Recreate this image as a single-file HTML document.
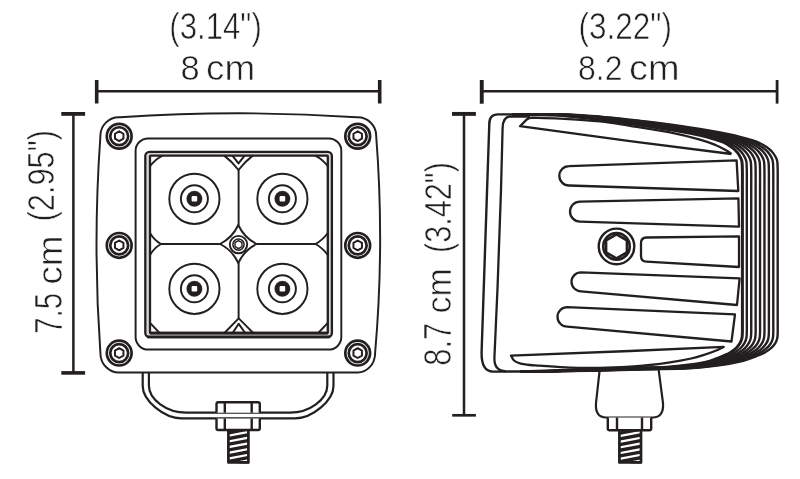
<!DOCTYPE html>
<html lang="en">
<head>
<meta charset="utf-8">
<title>Light dimensions</title>
<style>
html,body{margin:0;padding:0;background:#fff;}
body{width:800px;height:479px;overflow:hidden;}
svg{display:block;}
</style>
</head>
<body>
<svg width="800" height="479" viewBox="0 0 800 479" fill="none" stroke="#231f20" stroke-linecap="butt" stroke-linejoin="round">
<rect x="0" y="0" width="800" height="479" fill="#fff" stroke="none"/>
<g id="front" stroke-width="1.95">
<path d="M100.4,136.2 A18.6,18.6 0 0 1 120.2,117.3 Q238.3,109.3 356.7,117.3 A18.6,18.6 0 0 1 376.2,136.2 Q384.6,244.5 375.1,353.1 A17.5,19.4 0 0 1 356.7,372.5 L120.2,372.5 A18.6,19.4 0 0 1 100.4,353.1 Q92.6,244.5 100.4,136.2 Z"/>
<rect x="135.6" y="138.4" width="205.7" height="211.2" rx="12.5"/>
<rect x="145.3" y="151.9" width="186.6" height="185.2" rx="4.2" stroke-width="2.3" fill="#d6d6d6"/>
<rect x="150" y="155.6" width="177.8" height="177.4" rx="0.6" stroke-width="2.3" fill="#fff"/>
<path d="M147,336.9 H330.2 M150,333.1 H327.8" stroke-width="2.7"/>
<path d="M238.6,170 V225 M238.6,263 V318.4"/>
<path d="M161,244 H220 M256.6,244 H315.6"/>
<path d="M238.3,225 Q244.25,237.82 256.6,244 Q244.25,250.18 238.3,263 Q232.35,250.18 220,244 Q232.35,237.82 238.3,225 Z"/>
<path d="M224.2,155.6 Q232.2,161.6 238.5,170 Q244.8,161.6 252.8,155.6"/>
<path d="M232.4,155.6 L238.5,163.4 L244.6,155.6" stroke-width="2"/>
<path d="M224.4,333 Q231.8,325.4 238.7,318.4 Q245.8,325.4 253.2,333"/>
<path d="M232.6,333 L238.7,323.8 L245.2,333" stroke-width="2"/>
<path d="M150,233 Q154,240 161,244 Q154,248 150,255"/>
<path d="M327.8,233 Q322.6,240 315.6,244 Q322.6,248 327.8,255"/>
<path d="M162.6,155.6 Q155.04,159.42 150,166.2"/>
<path d="M315.2,155.6 Q322.76,159.42 327.8,166.2"/>
<path d="M159.6,333 L150,322.8"/>
<path d="M318.2,333 L327.8,322.8"/>
<circle cx="194.4" cy="198.8" r="25.1"/>
<circle cx="194.4" cy="198.8" r="13.5"/>
<circle cx="194.4" cy="198.8" r="7.7" stroke-width="0.4" fill="#231f20"/>
<rect x="191.6" y="196" width="5.6" height="5.6" rx="1" fill="#fff" stroke="none"/>
<circle cx="194.4" cy="288.8" r="25.1"/>
<circle cx="194.4" cy="288.8" r="13.5"/>
<circle cx="194.4" cy="288.8" r="7.7" stroke-width="0.4" fill="#231f20"/>
<rect x="191.6" y="286" width="5.6" height="5.6" rx="1" fill="#fff" stroke="none"/>
<circle cx="282.4" cy="198.8" r="25.1"/>
<circle cx="282.4" cy="198.8" r="13.5"/>
<circle cx="282.4" cy="198.8" r="7.7" stroke-width="0.4" fill="#231f20"/>
<rect x="279.6" y="196" width="5.6" height="5.6" rx="1" fill="#fff" stroke="none"/>
<circle cx="282.4" cy="288.8" r="25.1"/>
<circle cx="282.4" cy="288.8" r="13.5"/>
<circle cx="282.4" cy="288.8" r="7.7" stroke-width="0.4" fill="#231f20"/>
<rect x="279.6" y="286" width="5.6" height="5.6" rx="1" fill="#fff" stroke="none"/>
<circle cx="119.2" cy="136.2" r="12.4" stroke-width="2.7"/>
<circle cx="119.2" cy="136.2" r="8.95" stroke-width="2.7"/>
<path d="M123.44,138.65 L119.2,141.1 L114.96,138.65 L114.96,133.75 L119.2,131.3 L123.44,133.75 Z" stroke-width="2"/>
<circle cx="119.2" cy="245.4" r="12.4" stroke-width="2.7"/>
<circle cx="119.2" cy="245.4" r="8.95" stroke-width="2.7"/>
<path d="M123.44,247.85 L119.2,250.3 L114.96,247.85 L114.96,242.95 L119.2,240.5 L123.44,242.95 Z" stroke-width="2"/>
<circle cx="119.2" cy="353.1" r="12.4" stroke-width="2.7"/>
<circle cx="119.2" cy="353.1" r="8.95" stroke-width="2.7"/>
<path d="M123.44,355.55 L119.2,358 L114.96,355.55 L114.96,350.65 L119.2,348.2 L123.44,350.65 Z" stroke-width="2"/>
<circle cx="357.7" cy="136.2" r="12.4" stroke-width="2.7"/>
<circle cx="357.7" cy="136.2" r="8.95" stroke-width="2.7"/>
<path d="M361.94,138.65 L357.7,141.1 L353.46,138.65 L353.46,133.75 L357.7,131.3 L361.94,133.75 Z" stroke-width="2"/>
<circle cx="357.7" cy="245.4" r="12.4" stroke-width="2.7"/>
<circle cx="357.7" cy="245.4" r="8.95" stroke-width="2.7"/>
<path d="M361.94,247.85 L357.7,250.3 L353.46,247.85 L353.46,242.95 L357.7,240.5 L361.94,242.95 Z" stroke-width="2"/>
<circle cx="357.7" cy="353.1" r="12.4" stroke-width="2.7"/>
<circle cx="357.7" cy="353.1" r="8.95" stroke-width="2.7"/>
<path d="M361.94,355.55 L357.7,358 L353.46,355.55 L353.46,350.65 L357.7,348.2 L361.94,350.65 Z" stroke-width="2"/>
<circle cx="238.5" cy="244.6" r="8.7" stroke-width="1.9"/>
<circle cx="238.5" cy="244.6" r="5.6" stroke-width="1.5"/>
<path d="M241.96,246.6 L238.5,248.6 L235.04,246.6 L235.04,242.6 L238.5,240.6 L241.96,242.6 Z" stroke-width="1.4"/>
<path d="M142.7,372.5 V386 C142.7,400.6 164,418.4 181.6,418.4 H295 C312.3,418.4 333.5,400.6 333.5,386 V372.5" stroke-width="2.2"/>
<path d="M148.9,372.5 V385.6 C148.9,399.6 166.8,412.7 186.2,412.7 H290 C309.4,412.7 327.3,399.6 327.3,385.6 V372.5" stroke-width="2.2"/>
<path d="M216.5,412.7 V404 Q216.5,402.2 218.3,402.2 H258 Q259.8,402.2 259.8,404 V412.7" stroke-width="2.4" fill="#fff"/>
<path d="M224.8,402.2 V412.7 M251.7,402.2 V412.7" stroke-width="2.4"/>
<path d="M216.5,418.4 V428.2 Q216.5,430 218.3,430 H258 Q259.8,430 259.8,428.2 V418.4" stroke-width="2.4" fill="#fff"/>
<path d="M224.8,418.4 V430 M251.7,418.4 V430" stroke-width="2.4"/>
</g>
<clipPath id="st1"><rect x="227.6" y="430" width="21.6" height="33.4"/></clipPath>
<g clip-path="url(#st1)" stroke-width="3.4">
<path d="M227.6,433.05 L249.2,428.95"/>
<path d="M227.6,438.75 L249.2,434.65"/>
<path d="M227.6,444.45 L249.2,440.35"/>
<path d="M227.6,450.15 L249.2,446.05"/>
<path d="M227.6,455.85 L249.2,451.75"/>
<path d="M227.6,461.55 L249.2,457.45"/>
<path d="M227.6,467.25 L249.2,463.15"/>
</g>
<path d="M228.4,430 V462.4 H248.4 V430" stroke-width="2.7"/>
<g id="side" stroke-width="2.3">
<path d="M512,114.4 C519.09,114.5 541.68,114.37 554.52,115.02 C567.36,115.67 578.97,117.16 589.04,118.28 C599.11,119.4 606.3,120.6 614.93,121.76 C623.56,122.92 630.75,123.78 640.82,125.26 C650.89,126.74 665.27,128.91 675.34,130.63 C685.41,132.35 693.75,133.84 701.23,135.58 C708.71,137.32 715.98,139.68 720.22,141.06 C724.46,142.44 724.56,142.68 726.69,143.86 C728.82,145.05 731.2,146.7 732.99,148.16 C734.79,149.63 736.23,151.1 737.48,152.66 C738.73,154.23 739.74,155.93 740.5,157.56 C741.26,159.2 741.74,160.08 742.05,162.46 C742.37,164.85 742.34,167.96 742.4,171.86 C742.46,175.76 742.4,183.53 742.4,185.86 L742.4,319.49 C742.4,321.49 742.47,328.4 742.4,331.49 C742.33,334.57 742.36,336.05 741.97,337.99 C741.58,339.92 740.96,341.47 740.07,343.09 C739.18,344.7 738.03,346.25 736.62,347.69 C735.21,349.12 733.45,350.47 731.61,351.69 C729.77,352.9 729.2,353.42 725.57,354.99 C721.95,356.55 716.08,359.41 709.86,361.09 C703.65,362.77 695.48,364.06 688.29,365.07 C681.1,366.08 676.06,366.66 666.71,367.15 C657.36,367.64 642.26,367.76 632.19,368.02 C622.12,368.28 614.93,368.42 606.3,368.72 C597.67,369.02 591.92,369.41 580.41,369.85 C568.9,370.29 547.33,371.07 537.26,371.36 C527.19,371.65 522.88,371.56 520,371.6" stroke-width="3"/>
<path d="M512,114.4 C519.2,114.49 542.14,114.32 555.21,114.93 C568.27,115.54 580.14,116.98 590.41,118.07 C600.68,119.16 608.01,120.34 616.82,121.49 C625.62,122.64 632.95,123.5 643.22,124.99 C653.49,126.48 668.16,128.67 678.43,130.41 C688.69,132.15 697.2,133.69 704.83,135.44 C712.46,137.2 719.87,139.57 724.19,140.96 C728.52,142.34 728.62,142.57 730.79,143.76 C732.96,144.94 735.39,146.59 737.22,148.06 C739.05,149.52 740.52,150.99 741.8,152.56 C743.07,154.12 744.1,155.82 744.88,157.46 C745.65,159.09 746.14,159.97 746.46,162.36 C746.78,164.74 746.75,167.86 746.81,171.76 C746.87,175.66 746.81,183.42 746.81,185.76 L746.81,319.55 C746.81,321.55 746.89,328.47 746.81,331.55 C746.74,334.64 746.77,336.12 746.37,338.05 C745.98,339.99 745.35,341.54 744.44,343.15 C743.53,344.77 742.35,346.32 740.92,347.75 C739.48,349.19 737.69,350.54 735.81,351.75 C733.93,352.97 733.35,353.49 729.65,355.05 C725.95,356.62 719.97,359.47 713.63,361.15 C707.29,362.84 698.96,364.15 691.63,365.17 C684.29,366.2 679.16,366.79 669.62,367.29 C660.09,367.79 644.69,367.92 634.42,368.18 C624.15,368.44 616.82,368.58 608.01,368.88 C599.21,369.18 593.35,369.54 581.61,369.95 C569.87,370.37 547.87,371.1 537.6,371.38 C527.33,371.65 522.93,371.56 520,371.6" stroke-width="2.4"/>
<path d="M512,114.4 C519.32,114.47 542.59,114.26 555.89,114.84 C569.19,115.42 581.31,116.8 591.78,117.86 C602.25,118.92 609.73,120.08 618.7,121.22 C627.67,122.36 635.15,123.22 645.62,124.72 C656.09,126.22 671.04,128.43 681.51,130.2 C691.98,131.96 700.65,133.53 708.43,135.31 C716.2,137.09 723.75,139.46 728.17,140.85 C732.58,142.24 732.68,142.46 734.89,143.65 C737.11,144.83 739.58,146.48 741.44,147.95 C743.31,149.41 744.81,150.88 746.11,152.45 C747.41,154.01 748.46,155.71 749.25,157.35 C750.04,158.98 750.54,159.86 750.87,162.25 C751.2,164.63 751.17,167.75 751.23,171.65 C751.28,175.55 751.23,183.31 751.23,185.65 L751.23,319.62 C751.23,321.62 751.3,328.53 751.23,331.62 C751.15,334.7 751.18,336.18 750.78,338.12 C750.37,340.05 749.73,341.6 748.8,343.22 C747.88,344.83 746.68,346.38 745.21,347.82 C743.75,349.25 741.92,350.6 740.01,351.82 C738.1,353.03 737.5,353.55 733.73,355.12 C729.96,356.68 723.86,359.52 717.4,361.22 C710.94,362.91 702.44,364.24 694.97,365.28 C687.49,366.31 682.26,366.93 672.53,367.44 C662.81,367.95 647.11,368.07 636.64,368.34 C626.18,368.61 618.7,368.75 609.73,369.04 C600.75,369.33 594.77,369.67 582.81,370.06 C570.84,370.45 548.41,371.14 537.95,371.39 C527.48,371.65 522.99,371.57 520,371.6" stroke-width="2.4"/>
<path d="M512,114.4 C519.43,114.46 543.05,114.21 556.58,114.75 C570.1,115.29 582.48,116.62 593.15,117.65 C603.82,118.68 611.44,119.82 620.58,120.95 C629.73,122.08 637.35,122.94 648.01,124.45 C658.68,125.95 673.92,128.19 684.59,129.98 C695.26,131.77 704.1,133.38 712.02,135.18 C719.95,136.97 727.64,139.35 732.14,140.74 C736.63,142.13 736.74,142.36 739,143.54 C741.25,144.72 743.77,146.37 745.67,147.84 C747.58,149.31 749.1,150.77 750.43,152.34 C751.75,153.91 752.82,155.61 753.63,157.24 C754.43,158.87 754.94,159.76 755.27,162.14 C755.61,164.52 755.58,167.64 755.64,171.54 C755.7,175.44 755.64,183.21 755.64,185.54 L755.64,319.68 C755.64,321.68 755.71,328.6 755.64,331.68 C755.56,334.76 755.59,336.25 755.18,338.18 C754.77,340.11 754.11,341.66 753.17,343.28 C752.22,344.9 751,346.45 749.51,347.88 C748.02,349.31 746.16,350.66 744.21,351.88 C742.26,353.1 741.65,353.61 737.81,355.18 C733.97,356.75 727.75,359.58 721.17,361.28 C714.58,362.98 705.93,364.33 698.31,365.38 C690.69,366.43 685.35,367.06 675.45,367.58 C665.54,368.1 649.54,368.23 638.87,368.5 C628.2,368.77 620.58,368.92 611.44,369.2 C602.29,369.48 596.2,369.8 584.01,370.17 C571.82,370.54 548.96,371.17 538.29,371.41 C527.62,371.65 523.05,371.57 520,371.6" stroke-width="2.4"/>
<path d="M512,114.4 C519.54,114.44 543.51,114.15 557.26,114.66 C571.01,115.17 583.65,116.44 594.52,117.44 C605.39,118.44 613.15,119.56 622.47,120.68 C631.78,121.8 639.54,122.67 650.41,124.18 C661.28,125.69 676.8,127.95 687.67,129.76 C698.54,131.57 707.54,133.23 715.62,135.04 C723.69,136.85 731.53,139.23 736.11,140.63 C740.69,142.03 740.8,142.25 743.1,143.43 C745.39,144.62 747.96,146.27 749.9,147.73 C751.84,149.2 753.39,150.67 754.74,152.23 C756.09,153.8 757.18,155.5 758,157.13 C758.82,158.77 759.34,159.65 759.68,162.03 C760.02,164.42 759.99,167.53 760.05,171.43 C760.11,175.33 760.05,183.1 760.05,185.43 L760.05,319.74 C760.05,321.74 760.13,328.66 760.05,331.74 C759.97,334.83 760,336.31 759.58,338.24 C759.17,340.18 758.5,341.73 757.53,343.34 C756.57,344.96 755.33,346.51 753.81,347.94 C752.29,349.38 750.39,350.73 748.41,351.94 C746.42,353.16 745.8,353.68 741.89,355.24 C737.97,356.81 731.64,359.64 724.93,361.34 C718.23,363.05 709.41,364.42 701.64,365.48 C693.88,366.55 688.45,367.19 678.36,367.72 C668.27,368.25 651.96,368.39 641.1,368.66 C630.23,368.93 622.47,369.09 613.15,369.36 C603.84,369.63 597.63,369.93 585.21,370.27 C572.79,370.62 549.5,371.21 538.63,371.43 C527.76,371.65 523.11,371.57 520,371.6" stroke-width="2.4"/>
<path d="M512,114.4 C519.66,114.43 543.96,114.1 557.95,114.57 C571.93,115.04 584.82,116.26 595.89,117.23 C606.96,118.2 614.86,119.3 624.35,120.41 C633.84,121.52 641.74,122.39 652.81,123.91 C663.88,125.43 679.69,127.72 690.75,129.55 C701.82,131.38 710.99,133.08 719.21,134.91 C727.43,136.73 735.42,139.12 740.08,140.52 C744.75,141.93 744.86,142.14 747.2,143.32 C749.54,144.51 752.15,146.16 754.12,147.62 C756.1,149.09 757.68,150.56 759.06,152.12 C760.43,153.69 761.54,155.39 762.38,157.02 C763.21,158.66 763.74,159.54 764.08,161.92 C764.43,164.31 764.4,167.42 764.46,171.32 C764.53,175.22 764.46,182.99 764.46,185.32 L764.46,319.81 C764.46,321.81 764.54,328.72 764.46,331.81 C764.38,334.89 764.42,336.37 763.99,338.31 C763.56,340.24 762.88,341.79 761.9,343.41 C760.92,345.02 759.66,346.57 758.11,348.01 C756.56,349.44 754.63,350.79 752.6,352.01 C750.58,353.22 749.95,353.74 745.96,355.31 C741.98,356.87 735.53,359.69 728.7,361.41 C721.87,363.12 712.89,364.51 704.98,365.59 C697.08,366.66 691.54,367.33 681.27,367.87 C670.99,368.41 654.39,368.54 643.32,368.82 C632.25,369.1 624.35,369.26 614.86,369.52 C605.38,369.78 599.05,370.06 586.4,370.38 C573.76,370.7 550.04,371.24 538.97,371.45 C527.91,371.65 523.16,371.57 520,371.6" stroke-width="2.4"/>
<path d="M512,114.4 C519.77,114.41 544.42,114.04 558.63,114.48 C572.84,114.92 585.99,116.08 597.26,117.02 C608.53,117.96 616.58,119.04 626.23,120.14 C635.89,121.24 643.94,122.11 655.21,123.64 C666.47,125.17 682.57,127.48 693.84,129.33 C705.1,131.19 714.44,132.92 722.81,134.77 C731.18,136.62 739.31,139.01 744.06,140.42 C748.8,141.82 748.92,142.03 751.3,143.22 C753.68,144.4 756.34,146.05 758.35,147.52 C760.36,148.98 761.97,150.45 763.37,152.02 C764.77,153.58 765.9,155.28 766.75,156.92 C767.6,158.55 768.13,159.43 768.49,161.82 C768.84,164.2 768.81,167.32 768.88,171.22 C768.94,175.12 768.88,182.88 768.88,185.22 L768.88,319.87 C768.88,321.87 768.96,328.79 768.88,331.87 C768.79,334.96 768.83,336.44 768.39,338.37 C767.96,340.31 767.27,341.86 766.27,343.47 C765.27,345.09 763.98,346.64 762.4,348.07 C760.83,349.51 758.86,350.86 756.8,352.07 C754.74,353.29 754.1,353.81 750.04,355.37 C745.99,356.94 739.42,359.75 732.47,361.47 C725.51,363.19 716.37,364.6 708.32,365.69 C700.27,366.78 694.64,367.46 684.18,368.01 C673.72,368.56 656.82,368.7 645.55,368.98 C634.28,369.26 626.23,369.43 616.58,369.68 C606.92,369.93 600.48,370.19 587.6,370.49 C574.73,370.78 550.58,371.28 539.32,371.46 C528.05,371.65 523.22,371.58 520,371.6" stroke-width="2.4"/>
<path d="M512,114.4 C519.89,114.4 544.88,113.99 559.32,114.39 C573.75,114.79 587.16,115.9 598.63,116.81 C610.1,117.72 618.29,118.78 628.12,119.87 C637.95,120.96 646.14,121.83 657.6,123.37 C669.07,124.91 685.45,127.24 696.92,129.12 C708.38,130.99 717.89,132.77 726.4,134.63 C734.92,136.5 743.2,138.9 748.03,140.31 C752.86,141.72 752.97,141.92 755.4,143.11 C757.82,144.29 760.53,145.94 762.57,147.41 C764.62,148.87 766.26,150.34 767.69,151.91 C769.11,153.47 770.26,155.17 771.13,156.81 C771.99,158.44 772.53,159.32 772.89,161.71 C773.25,164.09 773.22,167.21 773.29,171.11 C773.35,175.01 773.29,182.77 773.29,185.11 L773.29,319.94 C773.29,321.94 773.37,328.85 773.29,331.94 C773.21,335.02 773.24,336.5 772.8,338.44 C772.35,340.37 771.65,341.92 770.63,343.54 C769.62,345.15 768.31,346.7 766.7,348.14 C765.1,349.57 763.1,350.92 761,352.14 C758.9,353.35 758.25,353.87 754.12,355.44 C749.99,357 743.31,359.81 736.23,361.54 C729.16,363.26 719.85,364.69 711.66,365.8 C703.47,366.9 697.74,367.6 687.09,368.16 C676.44,368.71 659.24,368.86 647.77,369.14 C636.31,369.42 628.12,369.6 618.29,369.84 C608.46,370.08 601.91,370.32 588.8,370.59 C575.7,370.87 551.12,371.31 539.66,371.48 C528.19,371.65 523.28,371.58 520,371.6" stroke-width="2.4"/>
<path d="M512,114.4 C520,114.38 545.33,113.93 560,114.3 C574.67,114.67 588.33,115.72 600,116.6 C611.67,117.48 620,118.52 630,119.6 C640,120.68 648.33,121.55 660,123.1 C671.67,124.65 688.33,127 700,128.9 C711.67,130.8 721.33,132.62 730,134.5 C738.67,136.38 747.08,138.78 752,140.2 C756.92,141.62 757.03,141.82 759.5,143 C761.97,144.18 764.72,145.83 766.8,147.3 C768.88,148.77 770.55,150.23 772,151.8 C773.45,153.37 774.62,155.07 775.5,156.7 C776.38,158.33 776.93,159.22 777.3,161.6 C777.67,163.98 777.63,167.1 777.7,171 C777.77,174.9 777.7,182.67 777.7,185 L777.7,320 C777.7,322 777.78,328.92 777.7,332 C777.62,335.08 777.65,336.57 777.2,338.5 C776.75,340.43 776.03,341.98 775,343.6 C773.97,345.22 772.63,346.77 771,348.2 C769.37,349.63 767.33,350.98 765.2,352.2 C763.07,353.42 762.4,353.93 758.2,355.5 C754,357.07 747.2,359.87 740,361.6 C732.8,363.33 723.33,364.78 715,365.9 C706.67,367.02 700.83,367.73 690,368.3 C679.17,368.87 661.67,369.02 650,369.3 C638.33,369.58 630,369.77 620,370 C610,370.23 603.33,370.45 590,370.7 C576.67,370.95 551.67,371.35 540,371.5 C528.33,371.65 523.33,371.58 520,371.6" stroke-width="2.4"/>
<path d="M514,114.4 L498,114.4 Q489.3,114.4 489.3,124 L481.6,352 Q481.2,371.6 493,371.6 L540,371.5" stroke-width="2.4"/>
<path d="M494.4,358 L497.6,286 L501,190 L502.6,128 Q502.8,117 510,116.3 L530,116.6 "/>
<path d="M494.4,358 Q494,371 506,371.3"/>
<path d="M731.5,154 L630,141.2 L520,126.2 L526.6,119.6 Q528.4,117.8 533,117.7 C537.5,117.85 548.83,117.98 560,118.6 C571.17,119.22 588.33,120.2 600,121.4 C611.67,122.6 618.33,123.97 630,125.8 C641.67,127.63 658.33,130.1 670,132.4 C681.67,134.7 692.33,137.47 700,139.6 C707.67,141.73 711.67,143.43 716,145.2 C720.33,146.97 723.42,148.73 726,150.2 C728.58,151.67 730.58,153.37 731.5,154"/>
<path d="M511,355.6 C511.5,356.42 512.5,359.2 514,360.5 C515.5,361.8 517.33,362.65 520,363.4 C522.67,364.15 526.67,364.62 530,365 C533.33,365.38 533.33,365.27 540,365.7 C546.67,366.13 560,367.25 570,367.6 C580,367.95 590,367.97 600,367.8 C610,367.63 621.67,367.07 630,366.6 C638.33,366.13 643.33,365.7 650,365 C656.67,364.3 663.33,363.44 670,362.4 C676.67,361.36 684.58,359.92 690,358.75 C695.42,357.58 698.33,356.69 702.5,355.4 C706.67,354.11 711.46,352.42 715,351 C718.54,349.58 722.29,347.58 723.75,346.9 L630,351 L511,355.6 Z"/>
<path d="M736.6,160.4 L569,166.1 A9.7,9.7 0 0 0 569,185.5 L738.3,191 Z"/>
<path d="M738.4,198.4 L580,201.6 A10,10 0 0 0 580,221.6 L739,226.6 Z"/>
<path d="M739.6,278.4 L581,272.3 A9.5,9.5 0 0 0 581,291.3 L737,305 Z"/>
<path d="M735,314.4 L567.2,307.2 A9.7,9.7 0 0 0 567.2,326.6 L731.5,341.5 Z"/>
<path d="M739,236.4 L646.5,237.5 Q641,237.6 641,243 V256 Q641,261.4 646.5,261.7 L739,267 Z"/>
<circle cx="616.5" cy="246.4" r="17.8" stroke-width="2.4"/>
<circle cx="616.5" cy="246.4" r="13.2" stroke-width="2.7"/>
<path d="M626.89,252.4 L616.5,258.4 L606.11,252.4 L606.11,240.4 L616.5,234.4 L626.89,240.4 Z" stroke-width="2.5"/>
<path d="M599.6,370.6 L596,403 Q595,417.5 606,417.5 H652.6 Q664,417.5 663,403 L658.6,369.4" stroke-width="2.2"/>
<path d="M607.8,417.5 V428.4 Q607.8,430.2 609.6,430.2 H649.4 Q651.2,430.2 651.2,428.4 V417.5" stroke-width="2.4" fill="#fff"/>
<path d="M617,417.5 V430.2 M642,417.5 V430.2" stroke-width="2.4"/>
</g>
<clipPath id="st2"><rect x="618.6" y="430.2" width="23.2" height="33.2"/></clipPath>
<g clip-path="url(#st2)" stroke-width="3.4">
<path d="M618.6,433.4 L641.8,429"/>
<path d="M618.6,439.1 L641.8,434.7"/>
<path d="M618.6,444.8 L641.8,440.4"/>
<path d="M618.6,450.5 L641.8,446.1"/>
<path d="M618.6,456.2 L641.8,451.8"/>
<path d="M618.6,461.9 L641.8,457.5"/>
<path d="M618.6,467.6 L641.8,463.2"/>
</g>
<path d="M619.4,430.2 V462.4 H641 V430.2" stroke-width="2.7"/>
<g id="dims" stroke-width="2.5">
<path d="M96.6,91.3 H379.8"/>
<path d="M96.7,80 V103.6 M379.7,80 V103.6" stroke-width="3.6"/>
<path d="M481.6,91.3 H777.2"/>
<path d="M481.75,80 V103.7" stroke-width="3.9"/>
<path d="M777.1,80 V103.6" stroke-width="2.8"/>
<path d="M73.4,113.8 V372.8"/>
<path d="M61.3,113.9 H85.1" stroke-width="3.8"/>
<path d="M61.3,372.9 H85.1" stroke-width="3.6"/>
<path d="M464,114 V415.3"/>
<path d="M452,113.9 H475.9" stroke-width="3.9"/>
<path d="M452.2,415.3 H475.9" stroke-width="2.7"/>
</g>
<g id="labels" font-family="'Liberation Sans', Arial, sans-serif" fill="#231f20" stroke="#fff" stroke-width="0.6" style="paint-order:fill stroke;opacity:0.999">
<text y="39.1"><tspan x="169.29" font-size="36" textLength="92.48" lengthAdjust="spacingAndGlyphs">(3.14&quot;)</tspan></text>
<text y="79.9"><tspan x="180.55" font-size="35.5" textLength="19.19" lengthAdjust="spacingAndGlyphs">8</tspan> <tspan x="206" font-size="35" textLength="49.15" lengthAdjust="spacingAndGlyphs">cm</tspan></text>
<text y="39.1"><tspan x="578.47" font-size="36" textLength="93.42" lengthAdjust="spacingAndGlyphs">(3.22&quot;)</tspan></text>
<text y="79.8"><tspan x="577.98" font-size="35.5" textLength="44.46" lengthAdjust="spacingAndGlyphs">8.2</tspan> <tspan x="629.05" font-size="35" textLength="50.58" lengthAdjust="spacingAndGlyphs">cm</tspan></text>
<text transform="translate(53.7,0) rotate(-90)" y="0"><tspan x="-221.52" font-size="37" textLength="91.48" lengthAdjust="spacingAndGlyphs">(2.95&quot;)</tspan></text>
<text transform="translate(62,0) rotate(-90)" y="0"><tspan x="-333.76" font-size="38.5" textLength="40.84" lengthAdjust="spacingAndGlyphs">7.5</tspan> <tspan x="-284.8" font-size="35" textLength="49.26" lengthAdjust="spacingAndGlyphs">cm</tspan></text>
<text transform="translate(451,0) rotate(-90)" y="0"><tspan x="-252.94" font-size="36.5" textLength="90.82" lengthAdjust="spacingAndGlyphs">(3.42&quot;)</tspan></text>
<text transform="translate(451,0) rotate(-90)" y="0"><tspan x="-365.66" font-size="38" textLength="42.78" lengthAdjust="spacingAndGlyphs">8.7</tspan> <tspan x="-313.54" font-size="35" textLength="45.16" lengthAdjust="spacingAndGlyphs">cm</tspan></text>
</g>
</svg>
</body>
</html>
